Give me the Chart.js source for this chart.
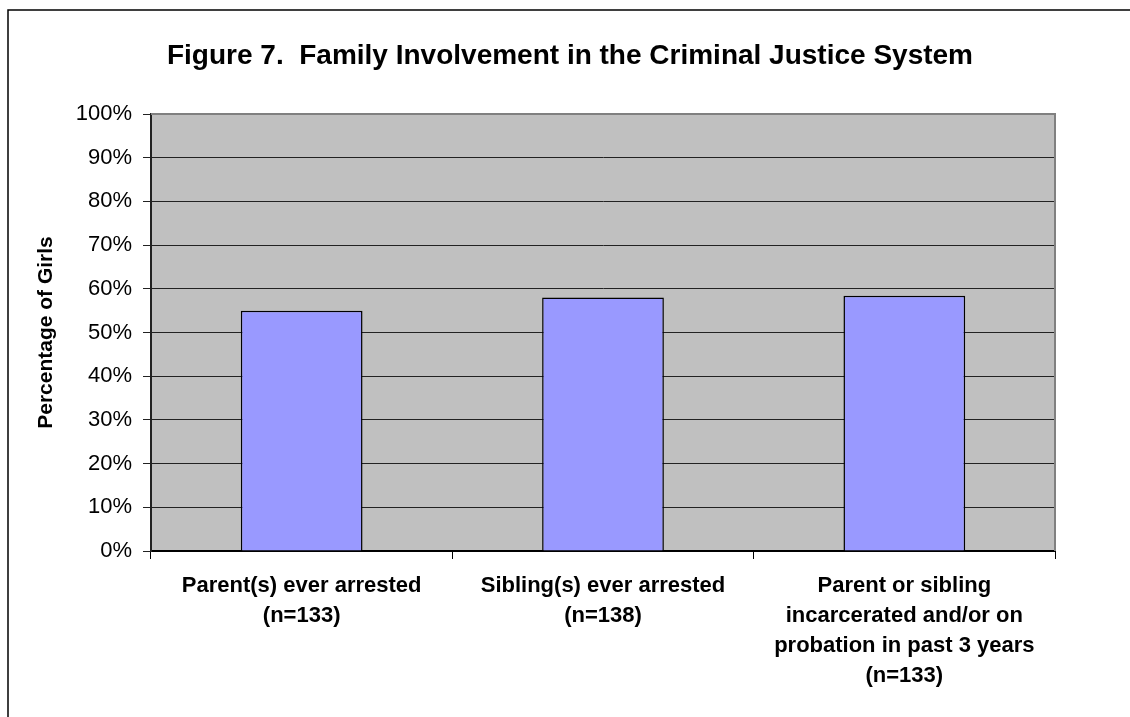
<!DOCTYPE html>
<html><head><meta charset="utf-8">
<script src="https://cdn.jsdelivr.net/npm/chart.js@4/dist/chart.umd.min.js"></script>
<style>html,body{margin:0;padding:0;background:#fff}#wrap{width:1130px;height:717px;position:relative}</style>
</head><body><div id="wrap"><canvas id="c" width="1130" height="717"></canvas></div>
<script>
const titleText = 'Figure 7.  Family Involvement in the Criminal Justice System';
const yAxisTitle = 'Percentage of Girls';
const categories = [
  ['Parent(s) ever arrested', '(n=133)'],
  ['Sibling(s) ever arrested', '(n=138)'],
  ['Parent or sibling', 'incarcerated and/or on', 'probation in past 3 years', '(n=133)']
];
const values = [55.0, 58.0, 58.4];
const yMin = 0, yMax = 100, yStep = 10;

const FONT = '"Liberation Sans", Arial, sans-serif';

const framePlugin = {
  id: 'frame',
  beforeDraw(chart) {
    const ctx = chart.ctx, a = chart.chartArea;
    ctx.save();
    ctx.fillStyle = '#fff';
    ctx.fillRect(0, 0, chart.width, chart.height);
    ctx.fillStyle = '#C0C0C0';
    ctx.fillRect(a.left, a.top, a.right - a.left, a.bottom - a.top);
    ctx.strokeStyle = '#000';
    ctx.lineWidth = 1.5;
    ctx.beginPath();
    ctx.moveTo(8, chart.height);
    ctx.lineTo(8, 10);
    ctx.lineTo(chart.width, 10);
    ctx.stroke();
    ctx.fillStyle = '#000';
    ctx.font = 'bold 28px ' + FONT;
    ctx.textAlign = 'center';
    ctx.textBaseline = 'middle';
    ctx.fillText(titleText, 570, 56);
    ctx.restore();
  },
  afterDatasetsDraw(chart) {
    const ctx = chart.ctx, a = chart.chartArea;
    ctx.save();
    ctx.strokeStyle = '#808080';
    ctx.lineWidth = 2;
    ctx.beginPath();
    ctx.moveTo(a.left, a.top);
    ctx.lineTo(a.right, a.top);
    ctx.lineTo(a.right, a.bottom);
    ctx.stroke();
    ctx.restore();
  }
};

new Chart(document.getElementById('c'), {
  type: 'bar',
  data: {
    labels: categories,
    datasets: [{
      data: values,
      backgroundColor: '#9999FF',
      borderColor: '#000',
      borderWidth: 1.5,
      barPercentage: 0.404,
      categoryPercentage: 1.0
    }]
  },
  options: {
    responsive: false,
    devicePixelRatio: 1,
    animation: false,
    layout: { padding: { top: 114, right: 75, bottom: 0, left: 0 } },
    plugins: { legend: { display: false }, title: { display: false }, tooltip: { enabled: false } },
    scales: {
      x: {
        afterFit(s) { s.height = 166; },
        grid: { display: true, drawOnChartArea: false, drawTicks: true, tickLength: 8, color: '#000', offset: true },
        border: { display: true, color: '#000', width: 2 },
        ticks: { color: '#000', padding: 12, maxRotation: 0, autoSkip: false, font: { family: FONT, size: 22, weight: 'bold', lineHeight: 1.36 } }
      },
      y: {
        min: yMin, max: yMax,
        afterFit(s) { s.width = 151; },
        grid: {
          color: (c) => (c.tick && c.tick.value === yMax) ? 'rgba(0,0,0,0)' : '#222',
          tickColor: '#222', tickLength: 8, lineWidth: 1
        },
        border: { display: true, color: '#222', width: 2 },
        ticks: {
          stepSize: yStep, color: '#000', padding: 11,
          font: { family: FONT, size: 22 },
          callback: (v) => v + '%'
        },
        title: {
          display: true, text: yAxisTitle, color: '#000',
          font: { family: FONT, size: 21, weight: 'bold' },
          padding: { top: 34, bottom: 0 }
        }
      }
    }
  },
  plugins: [framePlugin]
});
</script>
</body></html>
